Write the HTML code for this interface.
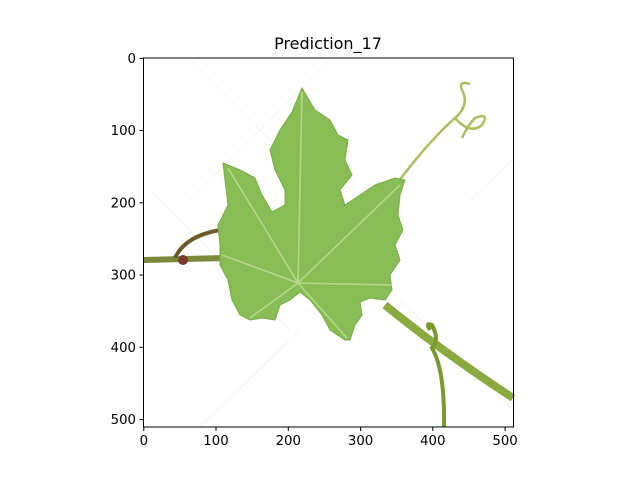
<!DOCTYPE html>
<html><head><meta charset="utf-8"><style>
body{margin:0;background:#fff;}
svg text{font-family:"DejaVu Sans","Liberation Sans",sans-serif;}
</style></head><body>
<svg width="640" height="480" viewBox="0 0 640 480">
<rect width="640" height="480" fill="#fff"/>
<text x="328" y="49" font-size="16" text-anchor="middle">Prediction_17</text>
<g>
<g stroke="#f6f6f6" stroke-width="1.2" fill="none">
<path d="M190 60 L330 200 M330 60 L190 200 M150 190 L290 330 M400 300 L513 410 M300 330 L200 427 M470 200 L513 160"/>
</g>
<path d="M143.5 260 L226 258" stroke="#7a8a3a" stroke-width="6" fill="none"/>
<path d="M175 258 Q185 236 220 230" stroke="#6d5a2a" stroke-width="4" fill="none"/>
<circle cx="183" cy="260" r="5" fill="#7a3a2a"/>
<path d="M398 182 Q430 140 455 118 Q470 105 462 90 Q458 80 470 84 M455 118 Q470 135 482 125 Q490 112 475 118 Q468 125 462 138" stroke="#a8c060" stroke-width="2.5" fill="none"/>
<path d="M385 305 Q440 350 513 398" stroke="#8aaa40" stroke-width="8" fill="none"/>
<path d="M430 330 Q425 322 432 325 Q440 340 432 348 Q445 370 444 427" stroke="#7a9a30" stroke-width="4" fill="none"/>
<polygon fill="#88bd55" stroke="#78ad45" stroke-width="1" points="302,88 315,110 330,120 338,135 348,140 345,160 352,175 340,190 345,205 360,195 375,185 395,178 405,180 400,195 398,215 403,230 395,245 400,260 390,275 392,290 385,300 370,298 360,302 362,315 355,325 350,340 345,340 330,330 322,315 310,300 300,292 290,300 280,305 275,320 262,318 250,320 240,315 232,300 228,280 220,265 220,245 218,225 228,205 225,180 223,163 240,170 255,178 262,195 272,212 285,205 285,190 275,170 270,150 280,130 292,112"/>
<path d="M298 283 L302 92 M298 283 L400 185 M298 283 L228 168 M298 283 L222 255 M298 283 L250 318 M298 283 L347 338 M298 283 L392 285" stroke="#b5d88a" stroke-width="1.6" fill="none"/>
</g>
<rect x="143.5" y="58" width="370" height="369" fill="none" stroke="#000" stroke-width="1"/>
<g font-size="13.3">
<g><line x1="143.8" y1="427" x2="143.8" y2="431" stroke="#000"/><text x="143.8" y="445" text-anchor="middle">0</text></g>
<g><line x1="216" y1="427" x2="216" y2="431" stroke="#000"/><text x="216" y="445" text-anchor="middle">100</text></g>
<g><line x1="288.3" y1="427" x2="288.3" y2="431" stroke="#000"/><text x="288.3" y="445" text-anchor="middle">200</text></g>
<g><line x1="360.6" y1="427" x2="360.6" y2="431" stroke="#000"/><text x="360.6" y="445" text-anchor="middle">300</text></g>
<g><line x1="432.8" y1="427" x2="432.8" y2="431" stroke="#000"/><text x="432.8" y="445" text-anchor="middle">400</text></g>
<g><line x1="505.1" y1="427" x2="505.1" y2="431" stroke="#000"/><text x="505.1" y="445" text-anchor="middle">500</text></g>
</g>
<g font-size="13.3">
<g><line x1="139.5" y1="58.3" x2="143.5" y2="58.3" stroke="#000"/><text x="136" y="63" text-anchor="end">0</text></g>
<g><line x1="139.5" y1="130.5" x2="143.5" y2="130.5" stroke="#000"/><text x="136" y="135" text-anchor="end">100</text></g>
<g><line x1="139.5" y1="202.8" x2="143.5" y2="202.8" stroke="#000"/><text x="136" y="207.5" text-anchor="end">200</text></g>
<g><line x1="139.5" y1="275" x2="143.5" y2="275" stroke="#000"/><text x="136" y="279.5" text-anchor="end">300</text></g>
<g><line x1="139.5" y1="347.3" x2="143.5" y2="347.3" stroke="#000"/><text x="136" y="352" text-anchor="end">400</text></g>
<g><line x1="139.5" y1="419.6" x2="143.5" y2="419.6" stroke="#000"/><text x="136" y="424" text-anchor="end">500</text></g>
</g>
</svg>
</body></html>
